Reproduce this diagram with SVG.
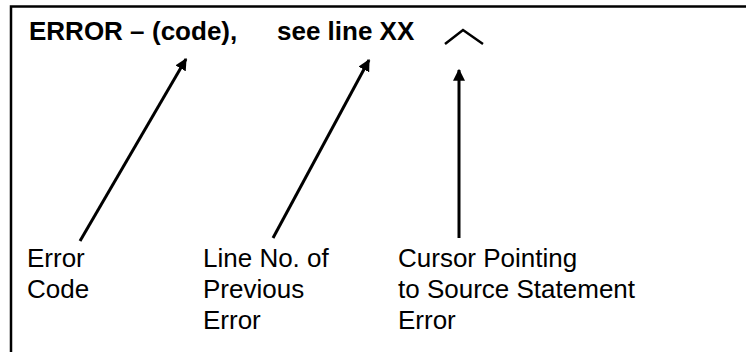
<svg xmlns="http://www.w3.org/2000/svg" width="746" height="352" viewBox="0 0 746 352">
  <style>
    .frame { fill: none; stroke: #000; stroke-width: 2.5; }
    .head { font-family: "Liberation Sans", Arial, sans-serif; font-weight: bold; font-size: 26px; fill: #000; }
    .label { font-family: "Liberation Sans", Arial, sans-serif; font-size: 26px; fill: #000; }
    .conn { fill: none; stroke: #000; stroke-width: 3; marker-end: url(#arrow); }
    .caret { fill: none; stroke: #000; stroke-width: 2.5; }
  </style>
  <defs>
    <marker id="arrow" viewBox="0 0 10 10" refX="9" refY="5" markerWidth="4" markerHeight="4" orient="auto" markerUnits="strokeWidth">
      <path d="M0,0 L10,5 L0,10 Z" fill="#000"/>
    </marker>
  </defs>
  <rect width="746" height="352" fill="#fff"/>

  <!-- outer frame, running past the right and bottom edges -->
  <rect class="frame" x="11" y="6.5" width="800" height="400"/>

  <!-- message line -->
  <g id="message">
    <text class="head" y="40"><tspan x="29">ERROR –</tspan><tspan x="152">(code),</tspan><tspan x="277">see line XX</tspan></text>
  </g>

  <!-- cursor mark -->
  <g id="cursor">
    <polyline class="caret" points="445,44 463,30 483,44"/>
  </g>

  <g id="label-code">
    <text class="label" x="27"><tspan x="27" y="267">Error</tspan><tspan x="27" y="298">Code</tspan></text>
  </g>

  <g id="label-line">
    <text class="label"><tspan x="203" y="267">Line No. of</tspan><tspan x="203" y="298">Previous</tspan><tspan x="203" y="329">Error</tspan></text>
  </g>

  <g id="label-cursor">
    <text class="label"><tspan x="398" y="267">Cursor Pointing</tspan><tspan x="398" y="298">to Source Statement</tspan><tspan x="398" y="329">Error</tspan></text>
  </g>

  <g id="connectors">
    <line class="conn" x1="80" y1="241" x2="186" y2="59"/>
    <line class="conn" x1="273" y1="238" x2="369" y2="60"/>
    <line class="conn" x1="459" y1="238" x2="459" y2="70"/>
  </g>
</svg>
